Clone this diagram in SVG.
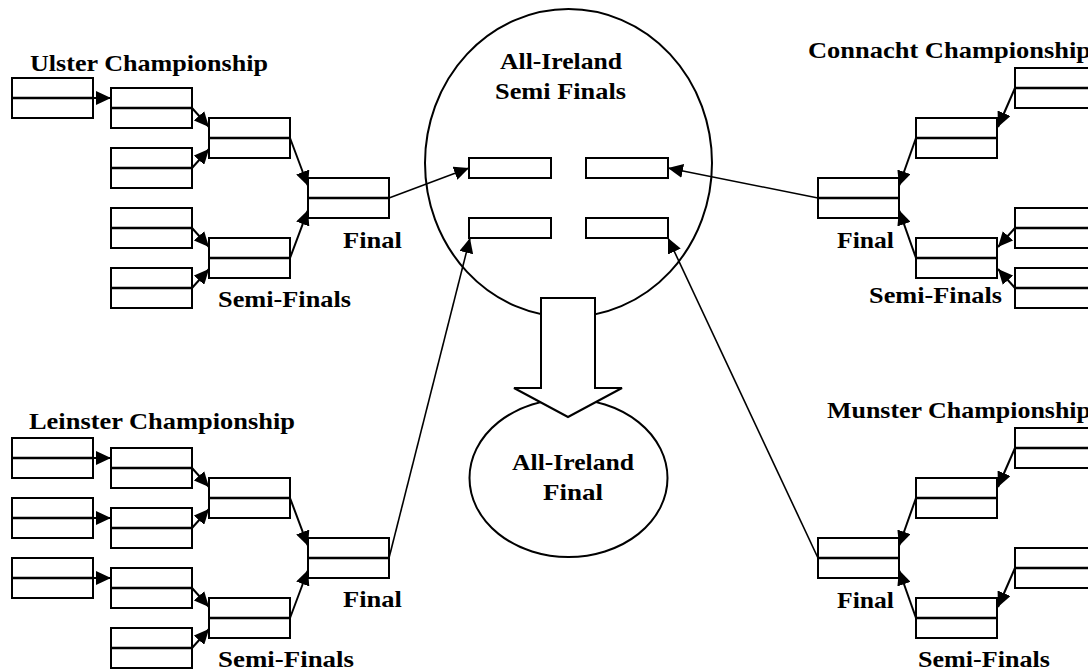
<svg xmlns="http://www.w3.org/2000/svg" width="1088" height="671" viewBox="0 0 1088 671">
  <defs>
    <style>
      .box { fill: #fff; stroke: #000; stroke-width: 2; }
      .mid { stroke: #000; stroke-width: 2.5; }
      .seed { fill: #fff; stroke: #000; stroke-width: 2; }
      .edge { fill: none; stroke: #000; stroke-width: 2; marker-end: url(#head); }
      .link { fill: none; stroke: #000; stroke-width: 1.6; marker-end: url(#head); }
      .shape { fill: #fff; stroke: #000; stroke-width: 2; }
      .lbl { font-family: "Liberation Serif", "Times New Roman", serif; font-weight: bold; font-size: 23px; fill: #000; }
    </style>
    <marker id="head" viewBox="0 0 15 14" refX="15" refY="7" markerWidth="15" markerHeight="14" markerUnits="userSpaceOnUse" orient="auto">
      <path d="M0,0 L15,7 L0,14 z" fill="#000"/>
    </marker>
    <!-- bracket slot: two stacked rows -->
    <g id="slot">
      <rect class="box" x="0" y="0" width="81" height="40"/>
      <line class="mid" x1="0" y1="20" x2="81" y2="20"/>
    </g>
  </defs>

  <rect width="1088" height="671" fill="#fff"/>

  <!-- All-Ireland semi final circle and final -->
  <g id="ai-semis">
    <ellipse class="shape" cx="568.5" cy="163" rx="143.5" ry="154"/>
    <text class="lbl" x="500" y="69" textLength="122" lengthAdjust="spacingAndGlyphs">All-Ireland</text>
    <text class="lbl" x="495" y="99" textLength="131" lengthAdjust="spacingAndGlyphs">Semi Finals</text>
    <rect class="seed" x="469" y="158" width="82" height="20"/>
    <rect class="seed" x="586" y="158" width="82" height="20"/>
    <rect class="seed" x="469" y="218" width="82" height="20"/>
    <rect class="seed" x="586" y="218" width="82" height="20"/>
  </g>
  <g id="ai-final">
    <ellipse class="shape" cx="568.5" cy="478" rx="99" ry="79"/>
    <text class="lbl" x="512" y="470" textLength="122" lengthAdjust="spacingAndGlyphs">All-Ireland</text>
    <text class="lbl" x="543" y="500" textLength="60" lengthAdjust="spacingAndGlyphs">Final</text>
  </g>
  <g id="ai-advance">
    <polygon class="shape" points="541,298 595,298 595,388 622,388 568,417 514,388 541,388"/>
  </g>

  <!-- Ulster -->
  <g id="ulster">
    <text class="lbl" x="30" y="71" textLength="238" lengthAdjust="spacingAndGlyphs">Ulster Championship</text>
    <use href="#slot" x="12" y="78"/>
    <use href="#slot" x="111" y="88"/>
    <use href="#slot" x="111" y="148"/>
    <use href="#slot" x="111" y="208"/>
    <use href="#slot" x="111" y="268"/>
    <use href="#slot" x="209" y="118"/>
    <use href="#slot" x="209" y="238"/>
    <use href="#slot" x="308" y="178"/>
    <text class="lbl" x="343" y="248" textLength="59" lengthAdjust="spacingAndGlyphs">Final</text>
    <text class="lbl" x="218" y="307" textLength="133" lengthAdjust="spacingAndGlyphs">Semi-Finals</text>
  </g>

  <!-- Connacht -->
  <g id="connacht">
    <text class="lbl" x="808" y="58" textLength="283" lengthAdjust="spacingAndGlyphs">Connacht Championship</text>
    <use href="#slot" x="1015" y="68"/>
    <use href="#slot" x="1015" y="208"/>
    <use href="#slot" x="1015" y="268"/>
    <use href="#slot" x="916" y="118"/>
    <use href="#slot" x="916" y="238"/>
    <use href="#slot" x="818" y="178"/>
    <text class="lbl" x="837" y="248" textLength="57" lengthAdjust="spacingAndGlyphs">Final</text>
    <text class="lbl" x="869" y="303" textLength="133" lengthAdjust="spacingAndGlyphs">Semi-Finals</text>
  </g>

  <!-- Leinster -->
  <g id="leinster">
    <text class="lbl" x="29" y="429" textLength="266" lengthAdjust="spacingAndGlyphs">Leinster Championship</text>
    <use href="#slot" x="12" y="438"/>
    <use href="#slot" x="12" y="498"/>
    <use href="#slot" x="12" y="558"/>
    <use href="#slot" x="111" y="448"/>
    <use href="#slot" x="111" y="508"/>
    <use href="#slot" x="111" y="568"/>
    <use href="#slot" x="111" y="628"/>
    <use href="#slot" x="209" y="478"/>
    <use href="#slot" x="209" y="598"/>
    <use href="#slot" x="308" y="538"/>
    <text class="lbl" x="343" y="607" textLength="59" lengthAdjust="spacingAndGlyphs">Final</text>
    <text class="lbl" x="218" y="667" textLength="136" lengthAdjust="spacingAndGlyphs">Semi-Finals</text>
  </g>

  <!-- Munster -->
  <g id="munster">
    <text class="lbl" x="827" y="418" textLength="264" lengthAdjust="spacingAndGlyphs">Munster Championship</text>
    <use href="#slot" x="1015" y="428"/>
    <use href="#slot" x="1015" y="548"/>
    <use href="#slot" x="916" y="478"/>
    <use href="#slot" x="916" y="598"/>
    <use href="#slot" x="818" y="538"/>
    <text class="lbl" x="837" y="608" textLength="57" lengthAdjust="spacingAndGlyphs">Final</text>
    <text class="lbl" x="918" y="667" textLength="132" lengthAdjust="spacingAndGlyphs">Semi-Finals</text>
  </g>

  <!-- connectors -->
  <g id="connectors">
    <!-- Ulster -->
    <line class="edge" x1="93" y1="98" x2="111" y2="98"/>
    <line class="edge" x1="192" y1="108" x2="209" y2="127"/>
    <line class="edge" x1="192" y1="168" x2="209" y2="149"/>
    <line class="edge" x1="192" y1="228" x2="209" y2="247"/>
    <line class="edge" x1="192" y1="288" x2="209" y2="269"/>
    <line class="edge" x1="290" y1="138" x2="308" y2="186"/>
    <line class="edge" x1="290" y1="258" x2="308" y2="210"/>
    <line class="link" x1="389" y1="198" x2="469" y2="168"/>
    <!-- Connacht -->
    <line class="edge" x1="1015" y1="88" x2="998" y2="127"/>
    <line class="edge" x1="1015" y1="228" x2="998" y2="247"/>
    <line class="edge" x1="1015" y1="288" x2="998" y2="269"/>
    <line class="edge" x1="916" y1="138" x2="899" y2="186"/>
    <line class="edge" x1="916" y1="258" x2="899" y2="210"/>
    <line class="link" x1="818" y1="198" x2="668" y2="168"/>
    <!-- Leinster -->
    <line class="edge" x1="93" y1="458" x2="111" y2="458"/>
    <line class="edge" x1="93" y1="518" x2="111" y2="518"/>
    <line class="edge" x1="93" y1="578" x2="111" y2="578"/>
    <line class="edge" x1="192" y1="468" x2="209" y2="487"/>
    <line class="edge" x1="192" y1="528" x2="209" y2="509"/>
    <line class="edge" x1="192" y1="588" x2="209" y2="607"/>
    <line class="edge" x1="192" y1="648" x2="209" y2="629"/>
    <line class="edge" x1="290" y1="498" x2="308" y2="546"/>
    <line class="edge" x1="290" y1="618" x2="308" y2="570"/>
    <line class="link" x1="389" y1="558" x2="470" y2="238"/>
    <!-- Munster -->
    <line class="edge" x1="1015" y1="448" x2="998" y2="487"/>
    <line class="edge" x1="1015" y1="568" x2="998" y2="607"/>
    <line class="edge" x1="916" y1="498" x2="899" y2="546"/>
    <line class="edge" x1="916" y1="618" x2="899" y2="570"/>
    <line class="link" x1="818" y1="558" x2="668" y2="238"/>
  </g>
</svg>
